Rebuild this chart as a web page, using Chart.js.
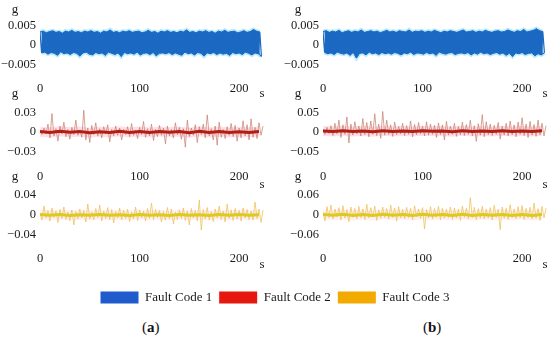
<!DOCTYPE html>
<html>
<head>
<meta charset="utf-8">
<script src="https://cdn.jsdelivr.net/npm/chart.js@4.4.1/dist/chart.umd.min.js"></script>
<style>
  body { margin: 0; background: #fff; width: 550px; height: 341px; position: relative; overflow: hidden; font-family: 'Liberation Serif', serif; }
  canvas { position: absolute; }
  .cap { position: absolute; font-size: 15px; color: #111; top: 319px; }
</style>
</head>
<body>
<div class="cap" style="left:142px">(<b>a</b>)</div>
<div class="cap" style="left:423px">(<b>b</b>)</div>
<script>
'use strict';

const seriesNames = ['Fault Code 1', 'Fault Code 2', 'Fault Code 3'];
const legendColors = ['#1f5bcc', '#e5170e', '#f2a900'];
const xUnit = 's';
const yUnit = 'g';
const xTicks = [0, 100, 200];
const xTickLabels = ['0', '100', '200'];
const xMax = 225;

// accelerations in mg (0.001 g); band signals alternate peak / trough
const bandStep = 1.6; // s between samples
const code1a = [
  3.3,-2.0,3.5,-1.8,3.1,-2.3,3.4,-1.9,3.6,-2.1,3.2,-2.6,3.4,-1.7,3.0,-2.2,3.5,-2.0,3.3,-2.4,
  3.7,-1.9,3.2,-2.1,3.4,-2.8,3.1,-2.0,3.5,-1.8,3.3,-2.3,3.6,-2.5,3.2,-1.9,3.4,-2.2,3.0,-2.0,
  3.5,-2.6,3.3,-1.8,3.8,-2.1,3.2,-2.4,3.4,-2.0,3.1,-2.9,3.5,-1.9,3.3,-2.2,3.6,-2.0,3.2,-2.3,
  3.4,-1.8,3.5,-2.5,3.1,-2.1,3.3,-2.0,3.7,-2.4,3.2,-1.9,3.4,-2.7,3.0,-2.1,3.5,-2.0,3.3,-2.2,
  3.6,-1.9,3.2,-2.4,3.4,-2.0,3.1,-2.3,3.5,-2.6,3.3,-1.8,3.8,-2.2,3.2,-2.0,3.4,-2.5,3.1,-1.9,
  3.5,-2.1,3.3,-2.8,3.6,-2.0,3.2,-2.2,3.4,-1.9,3.0,-2.4,3.5,-2.0,3.3,-2.3,3.7,-2.1,3.2,-2.6,
  3.4,-1.9,3.5,-2.2,3.1,-2.0,3.3,-2.4,3.6,-1.8,3.2,-2.1,3.4,-2.5,3.9,-2.0,3.5,-2.2,3.3,-2.9
];
const code1b = [
  3.4,-1.9,3.6,-2.2,3.2,-2.0,3.5,-2.4,3.3,-1.8,3.7,-2.1,3.1,-2.3,3.4,-2.0,3.6,-2.6,3.2,-1.9,
  3.5,-3.3,3.3,-2.1,3.8,-2.0,3.2,-2.5,3.4,-1.8,3.6,-2.2,3.3,-2.0,3.5,-2.4,3.1,-1.9,3.4,-2.2,
  3.7,-2.0,3.3,-2.3,3.5,-1.9,3.2,-2.1,3.6,-2.5,3.4,-2.0,3.3,-2.2,3.8,-1.8,3.2,-2.4,3.5,-2.0,
  3.4,-2.1,3.6,-2.3,3.2,-1.9,3.5,-2.2,3.3,-2.0,3.7,-2.6,3.4,-1.8,3.1,-2.1,3.5,-2.3,3.3,-2.0,
  3.6,-1.9,3.4,-2.4,3.2,-2.1,3.5,-2.0,3.8,-2.2,3.3,-1.9,3.4,-2.5,3.6,-2.0,3.2,-2.3,3.5,-1.8,
  3.3,-2.2,3.7,-2.0,3.4,-2.4,3.2,-2.1,3.5,-1.9,3.6,-2.3,3.3,-2.0,3.4,-2.6,3.8,-2.1,3.5,-2.9,
  3.2,-2.0,3.6,-2.2,3.4,-1.9,3.9,-2.4,3.3,-2.1,3.5,-2.0,3.7,-2.7,4.1,-2.2,3.6,-2.5,3.4,-2.0
];

const spikeStep = 2;
const code2a = [
  2,-4,6,-3,12,-9,28,-6,5,-14,9,-3,15,-7,4,-11,7,-4,18,-5,
  3,-8,33,-12,6,-16,10,-4,14,-6,5,-9,8,-3,11,-15,4,-6,9,-5,
  6,-12,4,-4,8,-7,13,-5,3,-10,7,-4,16,-8,5,-6,12,-13,4,-7,
  10,-5,6,-18,9,-6,4,-9,14,-4,7,-11,5,-23,18,-7,6,-5,11,-16,
  8,-4,12,-9,26,-6,5,-12,9,-20,15,-8,4,-10,8,-5,13,-7,10,-14,
  6,-9,17,-6,11,-12,20,-8,7,-10,14,-5,9
];
const code2b = [
  8,-6,12,-4,16,-9,22,-5,30,-14,18,-6,38,-28,20,-8,26,-5,15,-10,
  34,-7,24,-12,28,-6,46,-9,20,-16,52,-8,30,-6,18,-11,25,-7,14,-5,
  22,-9,16,-6,28,-12,19,-7,24,-5,15,-10,26,-8,20,-6,17,-14,23,-7,
  18,-20,27,-8,15,-6,22,-11,14,-7,25,-9,19,-6,30,-10,16,-24,21,-8,
  44,-12,26,-7,20,-9,17,-6,24,-18,15,-8,22,-10,28,-7,18,-12,25,-6,
  36,-9,20,-14,27,-8,19,-11,30,-7,22,-10,16
];
const code3a = [
  4,-10,18,-6,9,-12,14,-5,8,-15,11,-7,16,-9,6,-11,10,-20,7,-8,
  12,-6,9,-14,22,-8,6,-10,13,-5,20,-12,8,-7,15,-9,11,-16,7,-6,
  14,-10,9,-7,12,-13,6,-8,16,-11,10,-6,8,-12,13,-7,24,-9,11,-5,
  9,-14,7,-10,15,-8,12,-18,6,-9,10,-7,14,-11,8,-20,13,-6,9,-12,
  30,-30,11,-8,15,-10,7,-13,12,-6,18,-9,8,-14,22,-7,10,-11,13,-8,
  9,-12,14,-6,11,-9,8,-10,26,-7,12,-15,10
];
const code3b = [
  10,-18,25,-8,30,-12,18,-6,22,-15,28,-9,16,-20,24,-7,20,-11,26,-8,
  18,-14,32,-9,22,-6,27,-16,15,-10,24,-8,19,-12,30,-7,21,-18,25,-9,
  17,-11,23,-8,20,-14,28,-6,18,-10,22,-42,16,-9,25,-12,19,-7,26,-15,
  20,-10,17,-8,24,-13,21,-9,18,-16,27,-7,20,-11,52,-8,23,-14,19,-10,
  26,-12,18,-9,22,-15,29,-7,17,-44,24,-10,20,-13,31,-8,18,-11,25,-9,
  28,-14,20,-8,23,-12,36,-10,19,-16,26,-9,21
];

// dense baseline of the spiky signals
const coreStep = 10;
const core2a = [0.6,-0.8,1.0,-0.5,0.8,-1.0,0.5,-0.7,1.1,-0.6,0.7,-0.9,0.9,-0.5,0.6,-1.0,1.0,-0.6,0.8,-0.7,0.5,-0.9,0.7];
const core2b = [2.5,1.0,3.0,1.5,2.8,0.8,3.2,1.4,2.6,1.1,3.0,1.6,2.4,0.9,3.1,1.3,2.7,1.0,3.3,1.5,2.5,1.2,2.9];
const core3a = [0.8,-0.6,1.0,-0.9,0.5,-0.7,1.2,-0.5,0.7,-1.0,0.9,-0.6,0.6,-0.8,1.1,-0.7,0.5,-0.9,1.0,-0.6,0.8,-0.5,0.7];
const core3b = [1.5,-1.0,2.0,-1.4,1.2,-1.8,2.2,-0.9,1.6,-1.5,1.9,-1.1,1.3,-1.7,2.1,-1.2,1.5,-1.0,1.8,-1.6,1.2,-1.3,1.7];

// y tick values (mg) and their labels (g)
const yTicks1a = [-5, 0, 5],   yLabels1a = ['\u22120.005', '0', '0.005'];
const yTicks1b = [-5, 0, 5],   yLabels1b = ['\u22120.005', '0', '0.005'];
const yTicks2a = [-30, 0, 30], yLabels2a = ['\u22120.03', '0', '0.03'];
const yTicks2b = [-50, 0, 50], yLabels2b = ['\u22120.05', '0', '0.05'];
const yTicks3a = [-40, 0, 40], yLabels3a = ['\u22120.04', '0', '0.04'];
const yTicks3b = [-60, 0, 60], yLabels3b = ['\u22120.06', '0', '0.06'];

Chart.defaults.font.family = "'Liberation Serif', serif";
Chart.defaults.font.size = 12.5;
Chart.defaults.color = '#1a1a1a';

const rows = [
  { top: 0,   h: 100, zero: 45,  tickPx: 19.75, labPad: 9,  gY: 10,  sY: 94 },
  { top: 88,  h: 100, zero: 132, tickPx: 19.75, labPad: 10, gY: 94,  sY: 185 },
  { top: 172, h: 100, zero: 215, tickPx: 20,    labPad: 9,  gY: 177, sY: 265 }
];
const cols = [
  { left: 0,   w: 275, area: 40 },
  { left: 283, w: 267, area: 323 }
];
const halfH = 27;
const areaW = 224;

const unitLabels = {
  id: 'unitLabels',
  afterDraw(chart, args, opts) {
    const { ctx, chartArea } = chart;
    ctx.save();
    ctx.font = "13px 'Liberation Serif', serif";
    ctx.fillStyle = '#1a1a1a';
    ctx.textAlign = 'center';
    ctx.textBaseline = 'middle';
    ctx.fillText(yUnit, chartArea.left - 25, opts.gY);
    ctx.fillText(xUnit, chartArea.right - 2, opts.sY);
    ctx.restore();
  }
};

function pts(values, step) {
  return values.map((v, i) => ({ x: i * step, y: v }));
}

// peaks (even samples) and troughs (odd samples) of a band signal
function edge(values, odd) {
  return pts(values, bandStep).filter((p, i) => i % 2 === (odd ? 1 : 0));
}

function bandSets(values, color) {
  return [
    { data: pts(values, bandStep), borderColor: color, borderWidth: 1.2, fill: false, order: 1 },
    { data: edge(values, false), borderColor: color, backgroundColor: color, borderWidth: 1, fill: '+1', order: 2 },
    { data: edge(values, true), borderColor: color, borderWidth: 1, fill: false, order: 3 },
    { data: edge(values, false), borderColor: 'rgba(120,215,250,0.55)', borderWidth: 4, fill: false, order: 4 },
    { data: edge(values, true), borderColor: 'rgba(120,215,250,0.55)', borderWidth: 4, fill: false, order: 5 }
  ];
}

function spikeSets(values, core, spikeColor, coreColor, haloColor) {
  return [
    { data: pts(core, coreStep), borderColor: coreColor, borderWidth: 3, order: 1 },
    { data: pts(values, spikeStep), borderColor: spikeColor, borderWidth: 0.8, order: 2 },
    { data: pts(core, coreStep), borderColor: haloColor, borderWidth: 10, order: 3 }
  ];
}

function panel(r, c, datasets, ticks, labels) {
  const row = rows[r], col = cols[c];
  const cv = document.createElement('canvas');
  cv.width = col.w; cv.height = row.h;
  cv.style.left = col.left + 'px'; cv.style.top = row.top + 'px';
  document.body.appendChild(cv);
  const yMax = ticks[2] * halfH / row.tickPx;
  const areaTop = row.zero - halfH, areaBottom = row.zero + halfH;
  const yw = col.area - col.left;
  new Chart(cv, {
    type: 'line',
    data: { datasets },
    options: {
      responsive: false,
      animation: false,
      events: [],
      layout: { padding: { top: areaTop - row.top, right: col.w - yw - areaW, left: 0, bottom: 0 } },
      elements: { point: { radius: 0 }, line: { tension: 0 } },
      plugins: {
        legend: { display: false },
        tooltip: { enabled: false },
        unitLabels: { gY: row.gY - row.top, sY: row.sY - row.top }
      },
      scales: {
        x: {
          type: 'linear', min: 0, max: xMax,
          grid: { display: false, drawTicks: false }, border: { display: false },
          afterBuildTicks: s => { s.ticks = xTicks.map(v => ({ value: v })); },
          afterFit: s => { s.height = row.top + row.h - areaBottom; },
          ticks: { padding: row.labPad, maxRotation: 0, autoSkip: false,
                   callback: v => xTickLabels[xTicks.indexOf(v)] }
        },
        y: {
          min: -yMax, max: yMax,
          grid: { display: false, drawTicks: false }, border: { display: false },
          afterBuildTicks: s => { s.ticks = ticks.map(v => ({ value: v })); },
          afterFit: s => { s.width = yw; },
          ticks: { padding: 4, autoSkip: false, callback: v => labels[ticks.indexOf(v)] }
        }
      }
    },
    plugins: [unitLabels]
  });
}

panel(0, 0, bandSets(code1a, '#1b69c2'), yTicks1a, yLabels1a);
panel(0, 1, bandSets(code1b, '#1b69c2'), yTicks1b, yLabels1b);
panel(1, 0, spikeSets(code2a, core2a, 'rgba(196,120,100,0.85)', '#b01e14', 'rgba(255,160,190,0.35)'), yTicks2a, yLabels2a);
panel(1, 1, spikeSets(code2b, core2b, 'rgba(196,120,100,0.85)', '#b01e14', 'rgba(255,160,190,0.35)'), yTicks2b, yLabels2b);
panel(2, 0, spikeSets(code3a, core3a, 'rgba(238,190,80,0.9)', '#d8cc1c', 'rgba(255,190,210,0.25)'), yTicks3a, yLabels3a);
panel(2, 1, spikeSets(code3b, core3b, 'rgba(238,190,80,0.9)', '#d8cc1c', 'rgba(255,190,210,0.25)'), yTicks3b, yLabels3b);

// legend
const lg = document.createElement('canvas');
lg.width = 550; lg.height = 40;
lg.style.left = '0px'; lg.style.top = '284px';
document.body.appendChild(lg);
new Chart(lg, {
  type: 'bar',
  data: {
    labels: [],
    datasets: seriesNames.map((name, i) => ({ label: name, data: [], backgroundColor: legendColors[i], borderWidth: 0 }))
  },
  options: {
    responsive: false,
    animation: false,
    events: [],
    scales: { x: { display: false }, y: { display: false } },
    plugins: {
      tooltip: { enabled: false },
      legend: {
        position: 'top',
        labels: { boxWidth: 38, boxHeight: 12, padding: 7, font: { size: 13 }, color: '#1a1a1a' }
      }
    }
  }
});
</script>
</body>
</html>
